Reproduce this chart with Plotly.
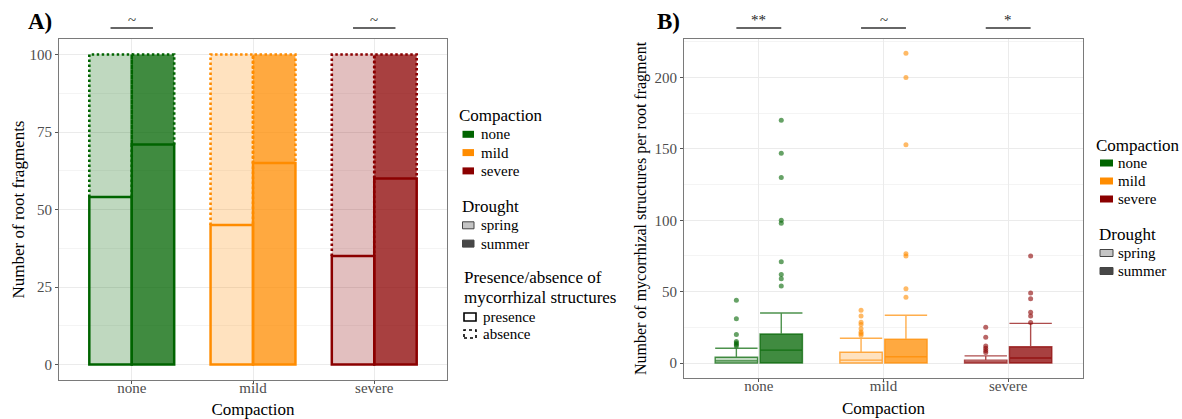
import plotly.graph_objects as go

# ---------------- data ----------------
categories = ["none", "mild", "severe"]
cat_colors = ["#006400", "#FF8C00", "#8B0000"]
droughts = ["spring", "summer"]
drought_alpha = [0.25, 0.75]
drought_legend_colors = ["#c4c4c4", "#474747"]
presence_labels = ["presence", "absence"]

# Panel A: number of root fragments with mycorrhizal structures (of 100)
presence_spring = [54, 45, 35]
presence_summer = [71, 65, 60]
total_fragments = [100, 100, 100]

# Panel B: box statistics of mycorrhizal structures per root fragment
q1_spring = [0, 0, 0]
median_spring = [1.5, 2, 0.5]
q3_spring = [4, 7.5, 2]
upper_spring = [10.3, 17.3, 5]
q1_summer = [0, 0, 0]
median_summer = [9, 4.4, 3.5]
q3_summer = [20.3, 16.6, 11.4]
upper_summer = [35, 33.5, 27.8]
outliers_spring = [[12, 13, 14, 15, 20, 31, 44],
                   [19.5, 20.6, 21.7, 24, 27, 28.5, 33, 37],
                   [7.4, 8.7, 10.3, 12, 18, 25]]
outliers_summer = [[54, 59, 62, 71, 98, 100, 130, 147, 170],
                   [46, 52, 75, 76.5, 153, 200, 217],
                   [28.3, 33, 35.5, 45, 49, 75]]

sig_A = ["~", "", "~"]
sig_B = ["**", "~", "*"]

# ---------------- helpers ----------------
FONT = "Liberation Serif"
W, H = 1182, 419


def rgba(hexc, a):
    h = hexc.lstrip("#")
    r, g, b = int(h[0:2], 16), int(h[2:4], 16), int(h[4:6], 16)
    return f"rgba({r},{g},{b},{a})"


def px_x(p):
    return p / W


def px_y(p):
    return 1 - p / H


fig = go.Figure()

# ---------------- Panel A ----------------
offA = 0.175
wA = 0.35
presence = [presence_spring, presence_summer]
for d, dname in enumerate(droughts):
    sign = -1 if d == 0 else 1
    for i, cat in enumerate(categories):
        xpos = i + 1 + sign * offA
        fill = rgba(cat_colors[i], drought_alpha[d])
        pres = presence[d][i]
        absn = total_fragments[i] - pres
        fig.add_trace(go.Bar(x=[xpos], y=[absn], base=[pres], width=wA,
                             marker=dict(color=fill, line=dict(width=0)),
                             xaxis="x", yaxis="y", showlegend=False,
                             name=f"{cat} {dname} absence"))
        x0, x1 = xpos - wA / 2, xpos + wA / 2
        fig.add_trace(go.Scatter(x=[x0, x0, x1, x1],
                                 y=[pres, total_fragments[i], total_fragments[i], pres],
                                 mode="lines",
                                 line=dict(color=cat_colors[i], width=2.6, dash="2.5px,2.5px"),
                                 xaxis="x", yaxis="y", showlegend=False, hoverinfo="skip"))
        fig.add_trace(go.Bar(x=[xpos], y=[pres], base=[0], width=wA,
                             marker=dict(color=fill, line=dict(width=2.5, color=cat_colors[i])),
                             xaxis="x", yaxis="y", showlegend=False,
                             name=f"{cat} {dname} presence"))

# ---------------- Panel B ----------------
offB = 0.18
wB = 0.34
stats = [
    (q1_spring, median_spring, q3_spring, upper_spring, outliers_spring),
    (q1_summer, median_summer, q3_summer, upper_summer, outliers_summer),
]
for d, dname in enumerate(droughts):
    sign = -1 if d == 0 else 1
    q1s, meds, q3s, ups, outs = stats[d]
    for i, cat in enumerate(categories):
        xpos = i + 1 + sign * offB
        fig.add_trace(go.Box(x=[xpos], q1=[q1s[i]], median=[meds[i]], q3=[q3s[i]],
                             lowerfence=[q1s[i]], upperfence=[ups[i]],
                             width=wB, whiskerwidth=1, boxpoints=False,
                             fillcolor=rgba(cat_colors[i], drought_alpha[d]),
                             line=dict(color=rgba(cat_colors[i], 0.7), width=1.4),
                             xaxis="x2", yaxis="y2", showlegend=False,
                             name=f"{cat} {dname}"))
        fig.add_trace(go.Scatter(x=[xpos] * len(outs[i]), y=outs[i], mode="markers",
                                 marker=dict(color=rgba(cat_colors[i], 0.6), size=5),
                                 xaxis="x2", yaxis="y2", showlegend=False,
                                 hoverinfo="y"))

# ---------------- significance marks ----------------
annotations = []
for sigs, off, xr in [(sig_A, offA, "x"), (sig_B, offB, "x2")]:
    for i, s in enumerate(sigs):
        if not s:
            continue
        fig.add_shape(type="line", xref=xr, yref="paper",
                      x0=i + 1 - off, x1=i + 1 + off, y0=px_y(28), y1=px_y(28),
                      line=dict(color="#333333", width=1.6))
        annotations.append(dict(x=i + 1, xref=xr, y=px_y(20), yref="paper",
                                text=s, showarrow=False, xanchor="center", yanchor="middle",
                                font=dict(family=FONT, size=15, color="#222222")))

annotations.append(dict(x=px_x(40), y=px_y(22), xref="paper", yref="paper", text="<b>A)</b>",
                        xanchor="center", yanchor="middle",
                        showarrow=False, font=dict(family=FONT, size=23, color="black")))
annotations.append(dict(x=px_x(668), y=px_y(22), xref="paper", yref="paper", text="<b>B)</b>",
                        xanchor="center", yanchor="middle",
                        showarrow=False, font=dict(family=FONT, size=23, color="black")))

# ---------------- legends (drawn as text + key boxes) ----------------
def legend_text(x, y, text, size):
    annotations.append(dict(x=px_x(x), y=px_y(y), xref="paper", yref="paper", text=text,
                            xanchor="left", yanchor="middle", showarrow=False,
                            font=dict(family=FONT, size=size, color="black")))


def legend_key(x0, x1, y, h, fill, line_color, line_width, dash="solid"):
    fig.add_shape(type="rect", xref="paper", yref="paper",
                  x0=px_x(x0), x1=px_x(x1), y0=px_y(y + h / 2), y1=px_y(y - h / 2),
                  fillcolor=fill, line=dict(color=line_color, width=line_width, dash=dash))


def build_legend(tx, comp_y, item_dy, key_x0, key_w, text_x, drought_tx, drought_y, pa=None):
    legend_text(tx, comp_y, "Compaction", 17)
    for i, cat in enumerate(categories):
        y = comp_y + item_dy * (i + 1)
        legend_key(key_x0, key_x0 + key_w, y, 7, cat_colors[i], cat_colors[i], 0)
        legend_text(text_x, y, cat, 15)
    legend_text(drought_tx, drought_y, "Drought", 17)
    for d, dname in enumerate(droughts):
        y = drought_y + item_dy * (d + 1) + 1
        legend_key(key_x0, key_x0 + key_w, y, 7, drought_legend_colors[d], "#444444", 1)
        legend_text(text_x, y, dname, 15)
    if pa:
        pa_x, pa_y = pa
        legend_text(pa_x, pa_y, "Presence/absence of", 17)
        legend_text(pa_x, pa_y + 20, "mycorrhizal structures", 17)
        for k, nm in enumerate(presence_labels):
            y = pa_y + 40 + 17 * k
            legend_key(pa_x + 2, pa_x + 14, y, 8, "white", "black", 1.6,
                       "solid" if k == 0 else "dot")
            legend_text(pa_x + 19, y, nm, 15)


build_legend(457, 116, 18.3, 462.5, 11.5, 479, 460, 206, pa=(462, 277))
build_legend(1093.5, 145, 18, 1100, 13, 1116, 1097, 234)

axis_common = dict(showline=True, mirror=True, linecolor="#7a7a7a", linewidth=1,
                   showgrid=True, gridcolor="#ebebeb", gridwidth=1, zeroline=False,
                   ticks="outside", ticklen=3, tickcolor="#555555",
                   tickfont=dict(family=FONT, size=15, color="#4d4d4d"))

fig.update_layout(
    width=W, height=H,
    margin=dict(l=0, r=0, t=0, b=0),
    paper_bgcolor="white", plot_bgcolor="white",
    barmode="overlay",
    showlegend=False,
    font=dict(family=FONT, color="black"),
    xaxis=dict(domain=[px_x(59), px_x(447)], range=[0.4, 3.6],
               tickvals=[1, 2, 3], ticktext=categories, ticklabelstandoff=-9,
               title=dict(text="Compaction", font=dict(family=FONT, size=17), standoff=9),
               anchor="y", **axis_common),
    yaxis=dict(domain=[px_y(380), px_y(39)], range=[-5, 105],
               tickvals=[0, 25, 50, 75, 100],
               minor=dict(tickvals=[12.5, 37.5, 62.5, 87.5], showgrid=True,
                          gridcolor="#f4f4f4", ticks=""),
               title=dict(text="Number of root fragments", font=dict(family=FONT, size=17), standoff=0),
               anchor="x", **axis_common),
    xaxis2=dict(domain=[px_x(684), px_x(1083)], range=[0.4, 3.6],
                tickvals=[1, 2, 3], ticktext=categories, ticklabelstandoff=-9,
                title=dict(text="Compaction", font=dict(family=FONT, size=17), standoff=9),
                anchor="y2", **axis_common),
    yaxis2=dict(domain=[px_y(378), px_y(39)], range=[-10.5, 227],
                tickvals=[0, 50, 100, 150, 200],
                minor=dict(tickvals=[25, 75, 125, 175, 225], showgrid=True,
                           gridcolor="#f4f4f4", ticks=""),
                title=dict(text="Number of mycorrhizal structures per root fragment",
                           font=dict(family=FONT, size=16), standoff=3),
                anchor="x2", **axis_common),
    annotations=annotations,
)

fig.write_html("out.html")
